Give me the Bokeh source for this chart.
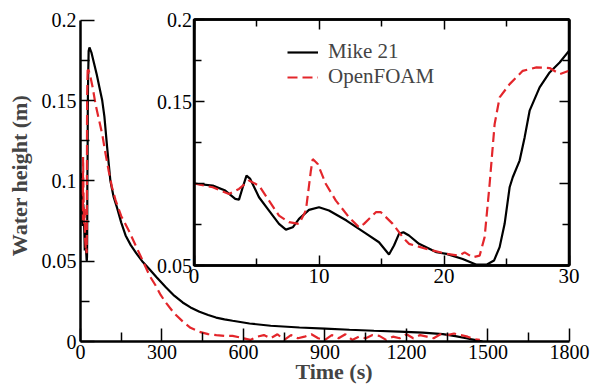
from bokeh.plotting import figure
from bokeh.models import Range1d, LinearAxis, FixedTicker, Legend, LegendItem
from bokeh.embed import file_html
from bokeh.resources import INLINE

# ---------------- data ----------------
# first 30 s (shown in inset and at the start of the main plot)
mike_t_in = [0, 1.5, 2.5, 3.3, 3.6, 3.9, 4.2, 4.5, 5.2, 6.0, 6.8, 7.35, 7.9, 8.4, 9.2, 10.0,
             10.8, 12.2, 13.8, 14.8, 15.6, 16.0, 16.4, 16.75, 17.2, 18.0, 19.4, 20.2, 21.5,
             22.6, 23.4, 24.0, 24.45, 24.85, 25.25, 25.5, 26.05, 26.45, 26.85, 27.65, 28.45,
             29.25, 30.0]
mike_h_in = [0.100, 0.0987, 0.0957, 0.0906, 0.0902, 0.0977, 0.1048, 0.1028, 0.0916, 0.0835,
             0.0754, 0.0719, 0.0733, 0.0784, 0.0839, 0.0855, 0.0835, 0.0774, 0.0693, 0.0642,
             0.0567, 0.0622, 0.0693, 0.0703, 0.0683, 0.0632, 0.0581, 0.0571, 0.0540, 0.0505,
             0.0505, 0.0530, 0.0612, 0.0754, 0.0977, 0.1038, 0.1140, 0.1281, 0.1444, 0.1586,
             0.1677, 0.1738, 0.1809]
foam_t_in = [0, 1.5, 2.8, 3.6, 4.4, 5.2, 6.0, 6.8, 7.6, 8.4, 8.95, 9.35, 9.5, 9.9, 10.55,
             11.35, 12.4, 13.2, 13.6, 14.55, 14.95, 15.9, 16.7, 17.2, 18.6, 20.2, 21.2, 21.65,
             22.3, 22.85, 23.25, 23.65, 24.05, 24.45, 25.25, 26.3, 27.4, 28.45, 29.25, 30.0]
foam_h_in = [0.100, 0.0977, 0.0936, 0.0967, 0.1018, 0.0987, 0.0896, 0.0804, 0.0764, 0.0754,
             0.0835, 0.1078, 0.1149, 0.1119, 0.0997, 0.0896, 0.0794, 0.0733, 0.0754, 0.0825,
             0.0825, 0.0754, 0.0673, 0.0632, 0.0601, 0.0571, 0.0560, 0.0580, 0.0550, 0.0560,
             0.0673, 0.0997, 0.1362, 0.1525, 0.1606, 0.1687, 0.1708, 0.1704, 0.1667, 0.1687]

# remainder of the record (main plot)
mike_t_tail = [33, 40, 50, 60, 70, 80, 88, 98, 110, 122, 135, 150, 166, 185, 205, 227, 254,
               280, 315, 345, 376, 405, 438, 470, 499, 530, 560, 622, 700, 806, 900, 990,
               1080, 1174, 1260, 1334, 1380, 1420, 1450, 1480]
mike_h_tail = [0.183, 0.180, 0.173, 0.166, 0.158, 0.150, 0.140, 0.121, 0.100, 0.090, 0.083,
               0.074, 0.066, 0.060, 0.055, 0.050, 0.045, 0.040, 0.0336, 0.0285, 0.0243,
               0.0212, 0.0185, 0.0165, 0.0149, 0.0138, 0.0129, 0.0112, 0.0098, 0.0087, 0.0080,
               0.0073, 0.0067, 0.0062, 0.0055, 0.0046, 0.0033, 0.0020, 0.0010, 0.0]
foam_t_tail = [35, 45, 55, 68, 80, 92, 104, 116, 129, 150, 178, 205, 230, 254, 276, 295, 315,
               345, 376, 405, 438, 470, 500, 530, 560, 600, 625, 650, 675, 700, 725, 750, 775,
               800, 825, 850, 875, 900, 925, 950, 975, 1000, 1025, 1050, 1075, 1100, 1125,
               1150, 1175, 1200, 1225, 1250, 1275, 1300, 1325, 1350, 1375, 1400, 1425, 1450,
               1470]
foam_h_tail = [0.166, 0.158, 0.148, 0.138, 0.129, 0.117, 0.106, 0.096, 0.088, 0.078, 0.069,
               0.059, 0.050, 0.041, 0.035, 0.029, 0.024, 0.0175, 0.0125, 0.0085, 0.0060, 0.0046,
               0.0040, 0.0035, 0.0035, 0.0020, 0.0010, 0.0030, 0.0040, 0.0020, 0.0045, 0.0010,
               0.0040, 0.0020, 0.0030, 0.0045, 0.0020, 0.0010, 0.0040, 0.0020, 0.0045, 0.0010,
               0.0030, 0.0020, 0.0040, 0.0035, 0.0010, 0.0030, 0.0020, 0.0045, 0.0020, 0.0040,
               0.0030, 0.0020, 0.0045, 0.0040, 0.0050, 0.0040, 0.0030, 0.0015, 0.0010]

mike_t = mike_t_in + mike_t_tail
mike_h = mike_h_in + mike_h_tail
foam_t = foam_t_in + foam_t_tail
foam_h = foam_h_in + foam_h_tail

main_x_ticks = [0, 300, 600, 900, 1200, 1500, 1800]
main_x_minor = [150, 450, 750, 1050, 1350, 1650]
main_y_ticks = [0, 0.05, 0.1, 0.15, 0.2]
main_y_minor = [0.025, 0.075, 0.125, 0.175]
main_y_labels = {0: "0", 0.05: "0.05", 0.1: "0.1", 0.15: "0.15", 0.2: "0.2"}
ins_x_ticks = [0, 10, 20, 30]
ins_x_minor = [5, 15, 25]
ins_y_ticks = [0.05, 0.1, 0.15, 0.2]
ins_y_minor = [0.075, 0.125, 0.175]
ins_y_labels = {0.05: "0.05", 0.1: "", 0.15: "0.15", 0.2: "0.2"}
series_names = ["Mike 21", "OpenFOAM"]

BLACK = "#000000"
RED = "#e3262b"
SERIF = "Liberation Serif"

# ---------------- figure ----------------
p = figure(width=590, height=388,
           min_border_left=80, min_border_right=3, min_border_top=9, min_border_bottom=47,
           x_range=Range1d(0, 1866.3), y_range=Range1d(0, 0.20666),
           output_backend="svg", toolbar_location=None)
p.grid.visible = False
p.outline_line_color = None
p.background_fill_color = "white"
p.border_fill_color = "white"

# inset coordinate system (maps onto the upper-right part of the frame)
p.extra_x_ranges = {"ix": Range1d(-9.08, 31.48)}
p.extra_y_ranges = {"iy": Range1d(0.00366, 0.2061)}

# main curves
p.line(mike_t, mike_h, line_color=BLACK, line_width=2.2)
p.line(foam_t, foam_h, line_color=RED, line_width=2.2, line_dash="10 5")

# inset background
p.quad(left=[0], right=[30], bottom=[0.05], top=[0.2], x_range_name="ix", y_range_name="iy",
       fill_color="white", line_color=BLACK, line_width=2.5)
r_mike = p.line(mike_t_in, mike_h_in, x_range_name="ix", y_range_name="iy",
                line_color=BLACK, line_width=2.2)
r_foam = p.line(foam_t_in, foam_h_in, x_range_name="ix", y_range_name="iy",
                line_color=RED, line_width=2.2, line_dash="10 5")


def style_axis(ax, size="20px"):
    ax.axis_line_width = 2.5
    ax.axis_line_color = BLACK
    ax.major_tick_line_width = 1.5
    ax.minor_tick_line_width = 1.5
    ax.major_tick_out = 0
    ax.minor_tick_out = 0
    ax.major_label_text_font = SERIF
    ax.major_label_text_font_size = size
    ax.major_label_text_color = BLACK


# main axes
xa = p.xaxis[0]
xa.ticker = FixedTicker(ticks=main_x_ticks, minor_ticks=main_x_minor)
xa.bounds = (0, 1800)
style_axis(xa)
xa.major_tick_in = 13
xa.minor_tick_in = 9
xa.major_label_standoff = 3
xa.axis_label = "Time (s)"
xa.axis_label_text_font = SERIF
xa.axis_label_text_font_style = "bold"
xa.axis_label_text_font_size = "22px"
xa.axis_label_standoff = -3

ya = p.yaxis[0]
ya.ticker = FixedTicker(ticks=main_y_ticks, minor_ticks=main_y_minor)
ya.bounds = (0, 0.2)
style_axis(ya)
ya.major_tick_in = 14
ya.minor_tick_in = 9
ya.major_label_standoff = 4
ya.major_label_overrides = main_y_labels
ya.axis_label = "Water height (m)"
ya.axis_label_text_font = SERIF
ya.axis_label_text_font_style = "bold"
ya.axis_label_text_font_size = "22px"
ya.axis_label_standoff = 7

# inset axes
ib = LinearAxis(x_range_name="ix", y_range_name="iy", fixed_location=0.05, bounds=(0, 30),
                ticker=FixedTicker(ticks=ins_x_ticks, minor_ticks=ins_x_minor))
style_axis(ib, "21px")
ib.major_tick_in = 10
ib.minor_tick_in = 7
ib.major_label_standoff = 3
p.add_layout(ib, "below")

il = LinearAxis(x_range_name="ix", y_range_name="iy", fixed_location=0, bounds=(0.05, 0.2),
                ticker=FixedTicker(ticks=ins_y_ticks, minor_ticks=ins_y_minor))
style_axis(il, "20px")
il.major_tick_in = 10
il.minor_tick_in = 7
il.major_label_standoff = 2
il.major_label_overrides = ins_y_labels
p.add_layout(il, "left")

it = LinearAxis(x_range_name="ix", y_range_name="iy", fixed_location=0.2, bounds=(0, 30),
                ticker=FixedTicker(ticks=ins_x_ticks, minor_ticks=ins_x_minor))
style_axis(it)
it.major_tick_in = 10
it.minor_tick_in = 7
it.major_label_text_alpha = 0
p.add_layout(it, "above")

ir = LinearAxis(x_range_name="ix", y_range_name="iy", fixed_location=30, bounds=(0.05, 0.2),
                ticker=FixedTicker(ticks=ins_y_ticks, minor_ticks=ins_y_minor))
style_axis(ir)
ir.major_tick_in = 10
ir.minor_tick_in = 7
ir.major_label_text_alpha = 0
p.add_layout(ir, "right")

# one legend per entry so the line spacing can match the reference
for name, rend, ypos in [(series_names[0], r_mike, 277), (series_names[1], r_foam, 252)]:
    lg = Legend(items=[LegendItem(label=name, renderers=[rend])],
                location=(207, ypos), orientation="vertical",
                glyph_width=31, glyph_height=20, label_height=20, label_standoff=10,
                spacing=0, padding=0, margin=0,
                label_text_font=SERIF, label_text_font_size="21px",
                border_line_color=None, background_fill_alpha=0)
    p.add_layout(lg)

open("out.html", "w").write(file_html(p, INLINE))
